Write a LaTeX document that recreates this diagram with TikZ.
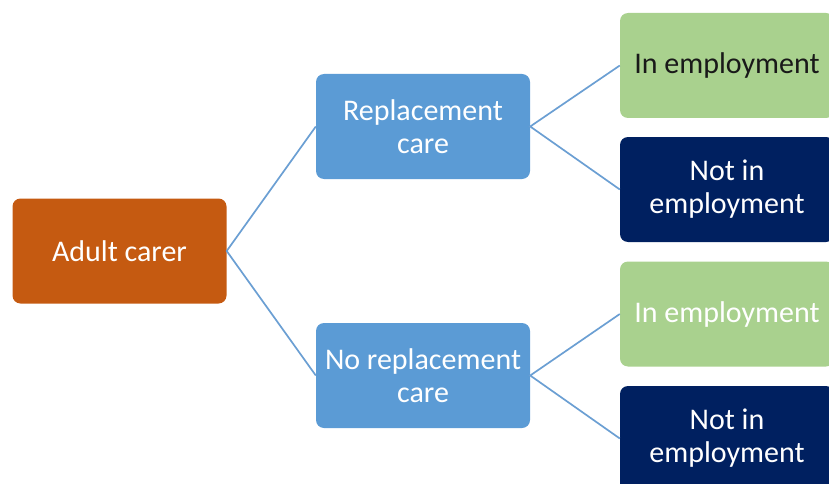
\documentclass[tikz,border=0pt]{standalone}
\usepackage{fontspec}
\setmainfont{Carlito}
\definecolor{cOrange}{HTML}{C55A11}
\definecolor{cBlue}{HTML}{5B9BD5}
\definecolor{cGreen}{HTML}{A9D18E}
\definecolor{cNavy}{HTML}{002060}
\definecolor{cLine}{HTML}{6B9FD3}
\tikzset{
  box/.style={rounded corners=8pt, minimum width=214pt, minimum height=105pt, inner sep=2pt,
    align=center, font=\fontsize{30}{33}\selectfont, text=white},
  link/.style={draw=cLine, line width=1.7pt},
}
\begin{document}
\begin{tikzpicture}[x=1pt,y=-1pt]
\useasboundingbox (0,0) rectangle (829,484);
\node[box, fill=cOrange] (adult) at (119.5,251) {Adult carer};
\node[box, fill=cBlue] (rep) at (423,126.5) {Replacement\\care};
\node[box, fill=cBlue] (norep) at (423,375.5) {No replacement\\care};
\node[box, fill=cGreen, text=black!90] (in1) at (727,65.5) {In employment};
\node[box, fill=cNavy] (not1) at (727,189.5) {Not in\\employment};
\node[box, fill=cGreen] (in2) at (727,314) {In employment};
\node[box, fill=cNavy] (not2) at (727,438.5) {Not in\\employment};
\draw[link] (rep.west) -- (adult.east) -- (norep.west);
\draw[link] (in1.west) -- (rep.east) -- (not1.west);
\draw[link] (in2.west) -- (norep.east) -- (not2.west);
\end{tikzpicture}
\end{document}
